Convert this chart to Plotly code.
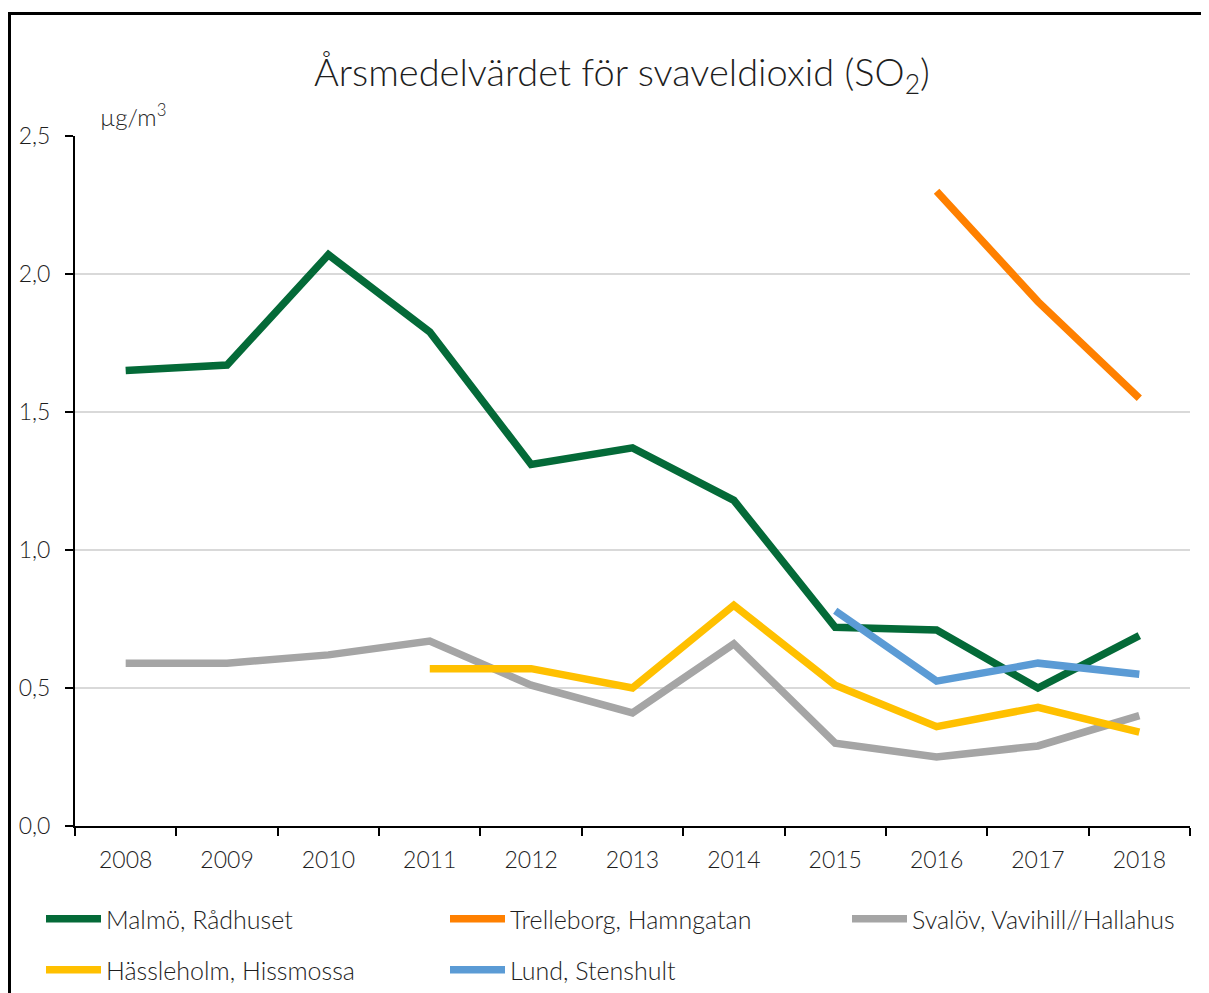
import plotly.graph_objects as go

years = ["2008", "2009", "2010", "2011", "2012", "2013", "2014", "2015", "2016", "2017", "2018"]
malmo = [1.65, 1.67, 2.07, 1.79, 1.31, 1.37, 1.18, 0.72, 0.71, 0.50, 0.69]
trelleborg = [None, None, None, None, None, None, None, None, 2.30, 1.90, 1.55]
svalov = [0.59, 0.59, 0.62, 0.67, 0.51, 0.41, 0.66, 0.30, 0.25, 0.29, 0.40]
hassleholm = [None, None, None, 0.57, 0.57, 0.50, 0.80, 0.51, 0.36, 0.43, 0.34]
lund = [None, None, None, None, None, None, None, 0.78, 0.525, 0.59, 0.55]

series = [
    ("Malmö, Rådhuset", malmo, "#046A38", "legend"),
    ("Trelleborg, Hamngatan", trelleborg, "#FF8000", "legend2"),
    ("Svalöv, Vavihill//Hallahus", svalov, "#A5A5A5", "legend3"),
    ("Hässleholm, Hissmossa", hassleholm, "#FFC000", "legend4"),
    ("Lund, Stenshult", lund, "#5B9BD5", "legend5"),
]

FONT = "Lato"
WEIGHT = 300
TXT = "#1E1E1E"
fig = go.Figure()
for name, vals, color, lg in series:
    fig.add_trace(go.Scatter(
        x=years, y=vals, name=name, mode="lines",
        line=dict(color=color, width=7.5), connectgaps=False, legend=lg,
        showlegend=True,
    ))

# page offset of the plot div (body margin)
OX, OY = 8, 8
W, H = 1209, 993
L = 75 - OX
T = 136 - OY
R = W - (1190 - OX)
B = H - (826 - OY)
pw, ph = W - L - R, H - T - B

def px(x):
    return (x - OX - L) / pw

def py(y):
    return (H - B - (y - OY)) / ph

leg_font = dict(family=FONT, size=25, color=TXT, weight=WEIGHT)
legend_pos = {
    "legend": (41, 919),
    "legend2": (445, 919),
    "legend3": (847, 919),
    "legend4": (41, 970),
    "legend5": (445, 970),
}
layout_legends = {}
for k, (lx, ly) in legend_pos.items():
    layout_legends[k] = dict(
        x=px(lx), y=py(ly), xanchor="left", yanchor="middle",
        orientation="h", font=leg_font, bgcolor="rgba(0,0,0,0)",
        itemwidth=55, visible=True,
    )

fig.update_layout(
    width=W, height=H,
    margin=dict(l=L, r=R, t=T, b=B, autoexpand=False),
    paper_bgcolor="white", plot_bgcolor="white",
    separators=", ",
    showlegend=True,
    font=dict(family=FONT, color=TXT, weight=WEIGHT),
    title=dict(
        text="Årsmedelvärdet för svaveldioxid (SO<sub>2</sub>)",
        x=(622 - OX) / W, xanchor="center", y=1 - (73 - OY) / H, yanchor="middle",
        font=dict(family=FONT, size=38, color=TXT, weight=WEIGHT),
    ),
    xaxis=dict(
        type="category", categoryorder="array", categoryarray=years,
        range=[-0.5, 10.5], showgrid=False,
        showline=True, linecolor="black", linewidth=2,
        ticks="outside", tickson="boundaries", ticklen=8, tickwidth=2, tickcolor="black",
        tickfont=dict(family=FONT, size=23, color=TXT, weight=WEIGHT),
        ticklabelstandoff=12,
    ),
    yaxis=dict(
        range=[0, 2.5], dtick=0.5, tickformat=".1f",
        showgrid=True, gridcolor="#D9D9D9", gridwidth=2,
        showline=True, linecolor="black", linewidth=2,
        ticks="outside", ticklen=8, tickwidth=2, tickcolor="black",
        tickfont=dict(family=FONT, size=23, color=TXT, weight=WEIGHT),
        ticklabelstandoff=10,
        zeroline=False,
    ),
    **layout_legends,
)

fig.add_annotation(
    text="µg/m<sup>3</sup>", xref="paper", yref="paper",
    x=px(98), y=py(115), xanchor="left", yanchor="middle",
    showarrow=False, font=dict(family=FONT, size=24, color=TXT, weight=WEIGHT),
)

fig.add_shape(
    type="rect", xref="paper", yref="paper",
    x0=px(9.5), y0=py(1200), x1=px(1400), y1=py(13.5),
    line=dict(color="black", width=3), fillcolor="rgba(0,0,0,0)",
)

fig.write_html("out.html")
